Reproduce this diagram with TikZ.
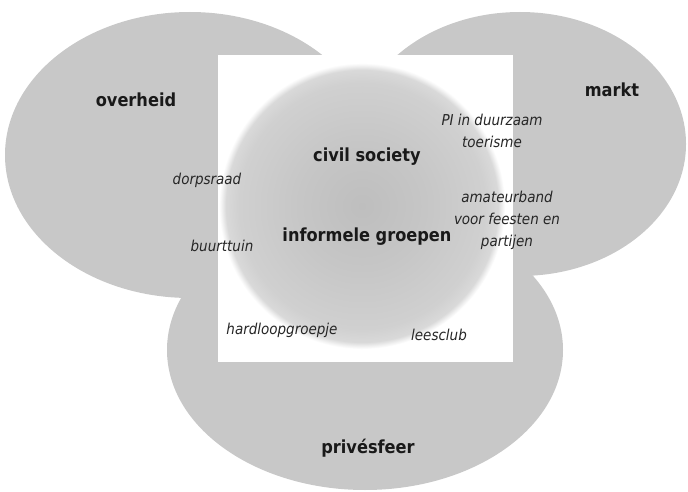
\documentclass[tikz,border=0pt]{standalone}
\usepackage{fontspec}
\setmainfont{DejaVu Sans Condensed}
\usepackage{xcolor}
\usepackage{tikz}

\definecolor{sectorgray}{RGB}{200,200,200}
\definecolor{blobcore}{RGB}{190,190,190}
\definecolor{blobmid}{RGB}{198,198,198}
\definecolor{blobrim}{RGB}{208,208,208}
\definecolor{blobfade}{RGB}{217,217,217}

\pgfdeclareradialshading{civilblob}{\pgfpoint{0bp}{0bp}}{%
  color(0bp)=(blobcore); color(11bp)=(blobmid); color(21.5bp)=(blobrim);
  color(23.8bp)=(blobfade); color(24.6bp)=(white!70!blobfade);
  color(25bp)=(white); color(50bp)=(white)}

\begin{document}
\begin{tikzpicture}[x=1pt,y=-1pt]
    % Define styles
    \tikzstyle{sector} = [fill=sectorgray, draw=none]
    \tikzstyle{sectorlabel} = [font=\fontsize{18}{20}\selectfont\bfseries, text=black!90]
    \tikzstyle{example} = [font=\fontsize{15}{22}\selectfont\itshape, text=black!85, align=center]

    \useasboundingbox (0,0) rectangle (688,492);

    % Sectors
    \fill[sector] (190,155) ellipse [x radius=185, y radius=143];
    \fill[sector] (520,144) ellipse [x radius=166, y radius=132];
    \fill[sector] (365,350) ellipse [x radius=198, y radius=140];

    % Civil society area
    \fill[white] (218,55) rectangle (513,362);
    \shade[shading=civilblob] (362,206) circle [radius=143];

    % Sector labels
    \node[sectorlabel] (overheid) at (136,100) {overheid};
    \node[sectorlabel] (markt) at (612,90) {markt};
    \node[sectorlabel] (prive) at (368,448) {privésfeer};
    \node[sectorlabel] (civil) at (367,157) {civil society};
    \node[sectorlabel] (informeel) at (367,237) {informele groepen};

    % Examples
    \node[example] (dorpsraad) at (207,180) {dorpsraad};
    \node[example] (buurttuin) at (222,246) {buurttuin};
    \node[example] (toerisme) at (492,131) {PI in duurzaam\\toerisme};
    \node[example] (band) at (507,220) {amateurband\\voor feesten en\\partijen};
    \node[example] (hardloop) at (282,330) {hardloopgroepje};
    \node[example] (leesclub) at (439,335) {leesclub};
\end{tikzpicture}
\end{document}
